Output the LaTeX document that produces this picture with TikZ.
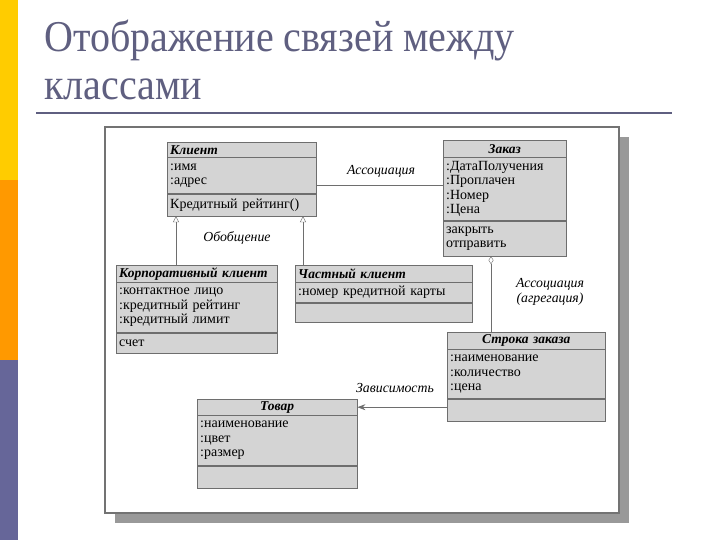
\documentclass[tikz,border=0pt]{standalone}
\usepackage{fontspec}
\setmainfont{Liberation Serif}
\newfontfamily\titlefont[FakeStretch=0.91]{Liberation Serif}
\usetikzlibrary{arrows.meta,positioning}
\definecolor{slide1}{HTML}{FFCC00}
\definecolor{slide2}{HTML}{FF9900}
\definecolor{slide3}{HTML}{666699}
\definecolor{titlec}{HTML}{5F5F80}
\definecolor{umlfill}{HTML}{D4D4D4}
\definecolor{umlline}{HTML}{6E6E6E}

\begin{document}
\begin{tikzpicture}[x=1pt,y=-1pt,
    cname/.style={draw=umlline,fill=umlfill,anchor=north west,inner xsep=3pt,inner ysep=0pt,text width=#1,align=left,font=\fontsize{13.5}{14}\selectfont\bfseries\itshape},
    cpart/.style={draw=umlline,fill=umlfill,inner xsep=3pt,inner ysep=0pt,text width=#1,align=left,font=\fontsize{14}{14.5}\selectfont},
    lbl/.style={font=\fontsize{13.8}{15}\selectfont\itshape,align=center},
    gen/.style={-{Triangle[open,length=6pt,width=6pt]},umlline},
    agg/.style={{Diamond[open,length=8pt,width=5pt]}-,umlline},
    dep/.style={-{Stealth[length=8pt,width=6pt]},umlline,thick}
]
\useasboundingbox (0,0) rectangle (720,540);
\fill[white] (0,0) rectangle (720,540);

% slide decoration
\fill[slide1] (0,0) rectangle (18,180);
\fill[slide2] (0,180) rectangle (18,360);
\fill[slide3] (0,360) rectangle (18,540);
\node[anchor=base west,inner sep=0pt,text=titlec,font=\titlefont\fontsize{44}{48}\selectfont] (title1) at (44,52) {Отображение связей между};
\node[anchor=base west,inner sep=0pt,text=titlec,font=\titlefont\fontsize{44}{48}\selectfont] (title2) at (44,100) {классами};
\draw[titlec,line width=2pt] (36,113) -- (672,113);

% picture frame
\fill[black!40] (115,137) rectangle (629,523);
\draw[black!55,fill=white,line width=1.2pt] (105,127) rectangle (619,513);

% classes
\node[cname=143pt,minimum height=15pt] (klient) at (167,142) {Клиент};
\node[cpart=143pt,minimum height=36pt,below=0pt of klient] (klient-a) {:имя\\:адрес};
\node[cpart=143pt,minimum height=22pt,below=0pt of klient-a] (klient-o) {Кредитный рейтинг()};

\node[cname=117pt,align=center,minimum height=17pt] (zakaz) at (443,140) {Заказ};
\node[cpart=117pt,minimum height=63pt,below=0pt of zakaz] (zakaz-a) {:ДатаПолучения\\:Проплачен\\:Номер\\:Цена};
\node[cpart=117pt,minimum height=35pt,below=0pt of zakaz-a] (zakaz-o) {закрыть\\отправить};

\node[cname=155pt,minimum height=17pt] (korp) at (116,265) {Корпоративный клиент};
\node[cpart=155pt,minimum height=50pt,below=0pt of korp] (korp-a) {:контактное лицо\\:кредитный рейтинг\\:кредитный лимит};
\node[cpart=155pt,minimum height=20pt,below=0pt of korp-a] (korp-o) {счет};

\node[cname=171pt,minimum height=17pt] (chast) at (295,265) {Частный клиент};
\node[cpart=171pt,minimum height=20pt,below=0pt of chast] (chast-a) {:номер кредитной карты};
\node[cpart=171pt,minimum height=19pt,below=0pt of chast-a] (chast-o) {};

\node[cname=152pt,align=center,minimum height=17pt] (stroka) at (447,332) {Строка заказа};
\node[cpart=152pt,minimum height=49pt,below=0pt of stroka] (stroka-a) {:наименование\\:количество\\:цена};
\node[cpart=152pt,minimum height=22pt,below=0pt of stroka-a] (stroka-o) {};

\node[cname=154pt,align=center,minimum height=16pt] (tovar) at (197,399) {Товар};
\node[cpart=154pt,minimum height=50pt,below=0pt of tovar] (tovar-a) {:наименование\\:цвет\\:размер};
\node[cpart=154pt,minimum height=22pt,below=0pt of tovar-a] (tovar-o) {};

% relations
\draw[umlline] ([yshift=-10pt]klient-a.east) -- ([yshift=-10pt]klient-a.east -| zakaz-a.west);
\draw[gen] ([xshift=60pt]korp.north west) -- ([xshift=60pt]korp.north west |- klient-o.south);
\draw[gen] ([xshift=8pt]chast.north west) -- ([xshift=8pt]chast.north west |- klient-o.south);
\draw[agg] ([xshift=44pt]stroka.north west |- zakaz-o.south) -- ([xshift=44pt]stroka.north west);
\draw[dep] (stroka-o.west |- tovar.east) -- (tovar.east);

% labels
\node[lbl] (l-assoc) at (381,171) {Ассоциация};
\node[lbl] (l-gen) at (237,238) {Обобщение};
\node[lbl] (l-agg) at (550,292) {Ассоциация\\(агрегация)};
\node[lbl] (l-dep) at (395,388) {Зависимость};
\end{tikzpicture}
\end{document}
